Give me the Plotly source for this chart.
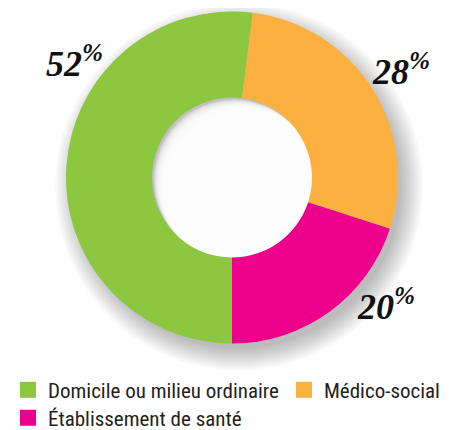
import plotly.graph_objects as go

categories = ["Domicile ou milieu ordinaire", "Médico-social", "Établissement de santé"]
values = [52, 28, 20]
colors = ["#8DC63F", "#FBB040", "#EC008C"]
label_texts = ["52", "28", "20"]
legend_rows = ["legend", "legend", "legend2"]

# the page body adds an 8px margin, so the figure is drawn 8px in from the window edge
OFF = 8
W, H = 465 - OFF, 430 - OFF
cx, cy, R = 232 - OFF, 177.5 - OFF, 166  # pixel centre / radius of the donut
HOLE = 0.482


def px_x(x):
    return x / W


def px_y(y):
    return 1 - y / H


def circle(x, y, r, fill):
    return dict(type="circle", xref="paper", yref="paper", layer="below",
                x0=px_x(x - r), x1=px_x(x + r), y0=px_y(y + r), y1=px_y(y - r),
                fillcolor=fill, line=dict(width=0))


shapes = []
# soft outer drop shadow (decorative)
for i in range(12):
    shapes.append(circle(cx + 7, cy + 9, R - 4 + i * 2.0, "rgba(0,0,0,0.022)"))
# inner shadow in the hole (decorative)
rh = R * HOLE
shapes.append(circle(cx, cy, rh, "rgb(192,192,192)"))
for i in range(10):
    d = 16 - i * 1.5
    shapes.append(circle(cx + d * 0.75, cy + d * 0.75, rh, "rgba(255,255,255,0.33)"))

fig = go.Figure()
fig.add_trace(go.Pie(
    labels=categories,
    values=values,
    marker=dict(colors=colors, line=dict(width=0)),
    hole=HOLE,
    sort=False,
    direction="clockwise",
    rotation=180,
    textinfo="none",
    hoverinfo="label+percent",
    showlegend=False,
    domain=dict(x=[px_x(cx - R), px_x(cx + R)], y=[px_y(cy + R), px_y(cy - R)]),
))

# legend entries (one per category)
for cat, col, lg in zip(categories, colors, legend_rows):
    fig.add_trace(go.Scatter(
        x=[None], y=[None], mode="markers", name=cat, legend=lg,
        marker=dict(symbol="square", size=16, color=col, line=dict(width=0)),
        hoverinfo="skip",
    ))

label_pos = [(74, 61), (401, 69), (386, 304)]
annotations = []
for t, (wx, wy) in zip(label_texts, label_pos):
    annotations.append(dict(
        text=f"<b><i>{t}<sup>%</sup></i></b>", x=px_x(wx - OFF), y=px_y(wy - OFF),
        xref="paper", yref="paper", showarrow=False,
        font=dict(family="Liberation Serif, Times New Roman, serif", size=36, color="#111111"),
        xanchor="center", yanchor="middle",
    ))

legend_font = dict(family="Liberation Sans Narrow, Roboto Condensed, Arial Narrow, sans-serif",
                   size=21, color="#231F20")

fig.update_layout(
    width=W, height=H,
    margin=dict(l=0, r=0, t=0, b=0, autoexpand=False),
    paper_bgcolor="white", plot_bgcolor="white",
    xaxis=dict(visible=False), yaxis=dict(visible=False),
    shapes=shapes,
    annotations=annotations,
    showlegend=True,
    legend=dict(
        orientation="h", x=0, y=px_y(390 - OFF), xanchor="left", yanchor="middle",
        font=legend_font, itemwidth=30, bgcolor="rgba(0,0,0,0)",
    ),
    legend2=dict(
        orientation="h", x=0, y=px_y(418 - OFF), xanchor="left", yanchor="middle",
        font=legend_font, itemwidth=30, bgcolor="rgba(0,0,0,0)",
    ),
)

fig.write_html("out.html")
